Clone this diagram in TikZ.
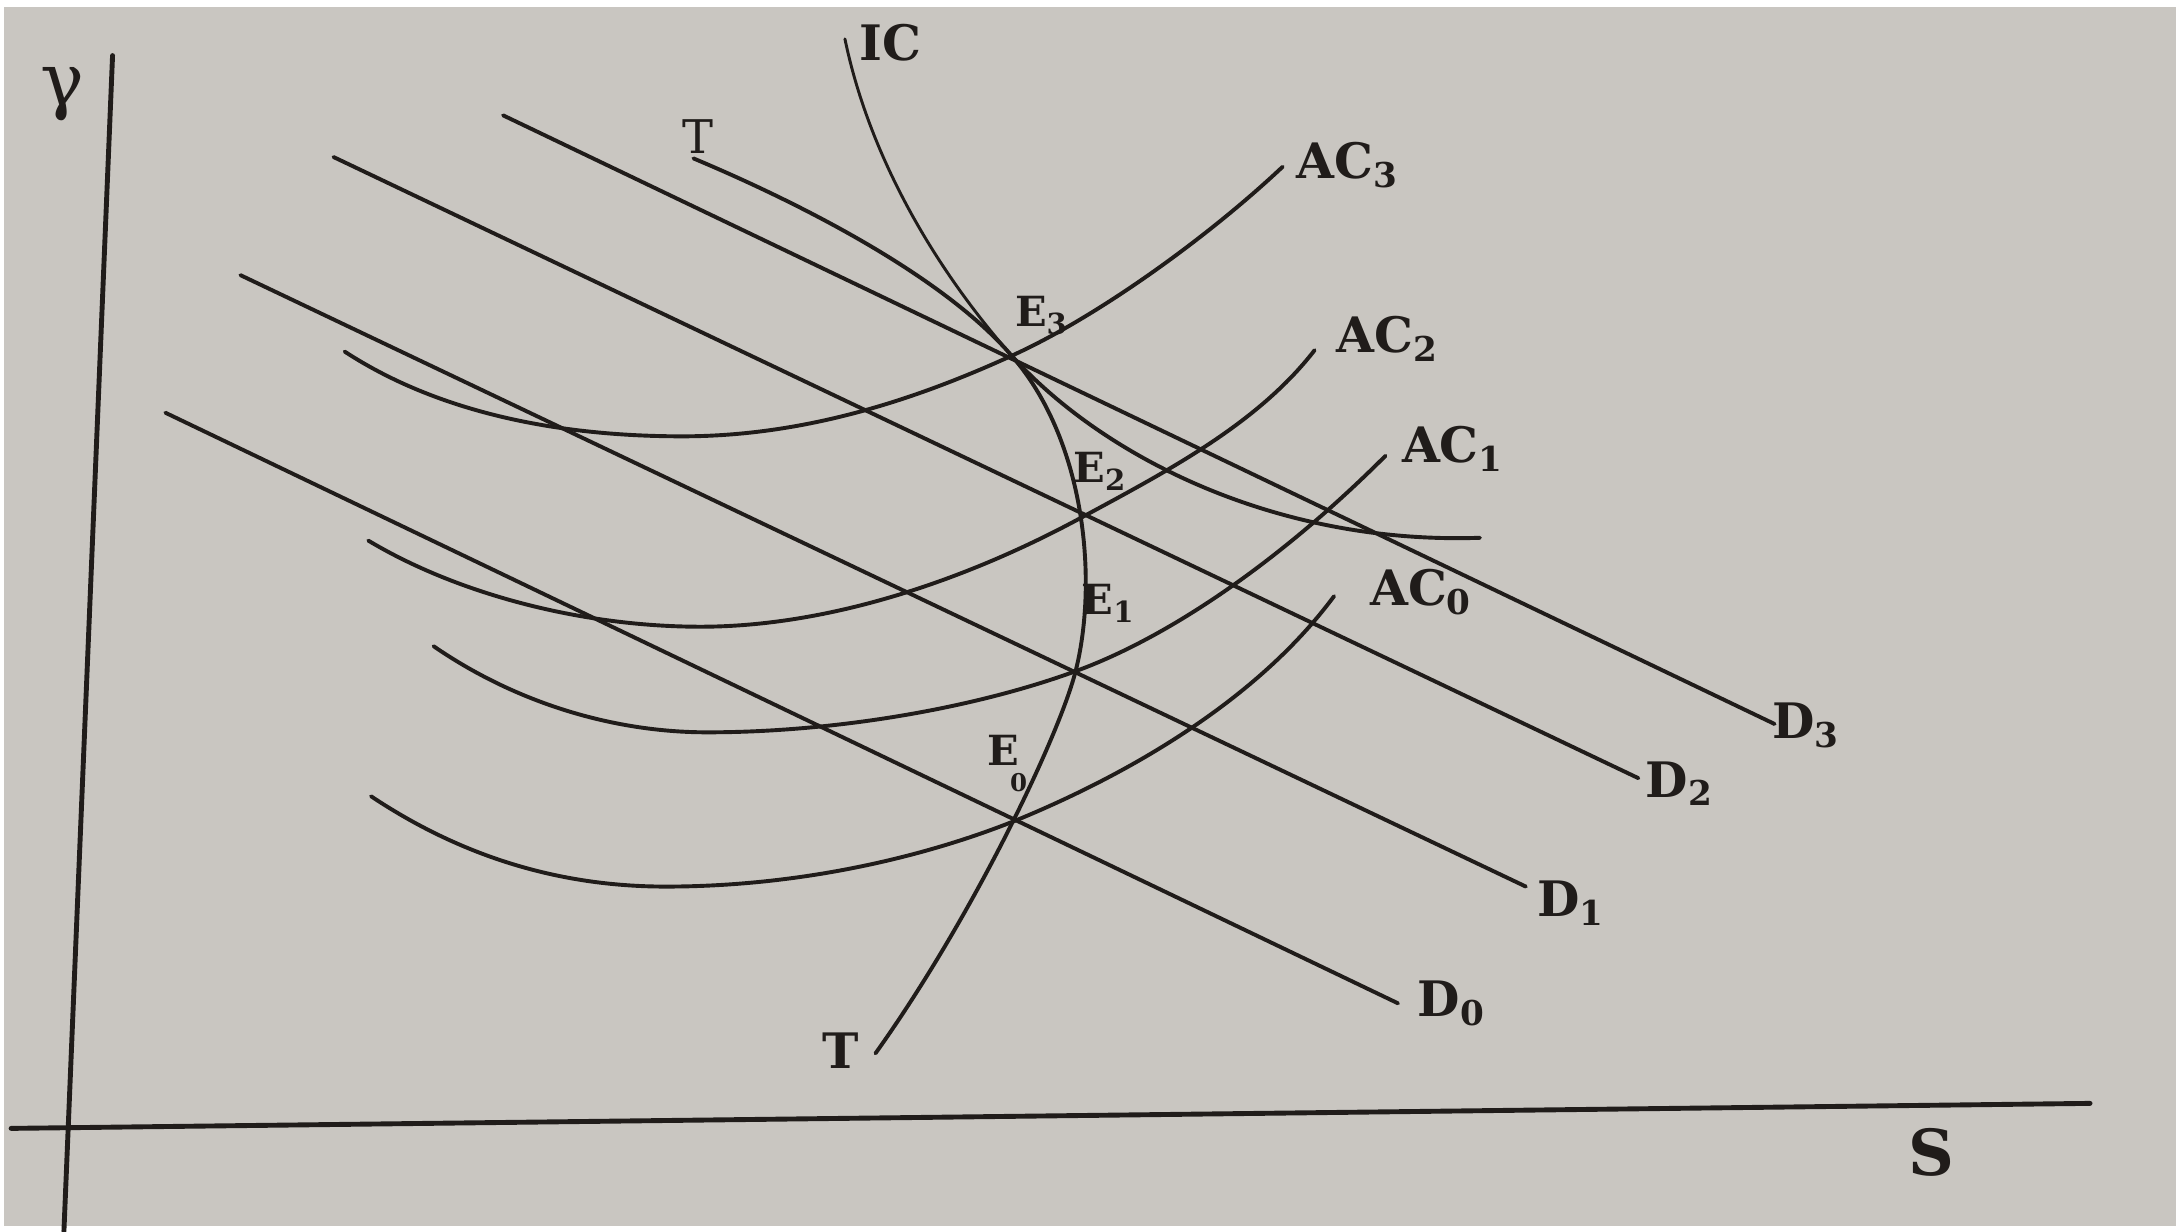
\documentclass[tikz,border=0pt]{standalone}
\usepackage{fontspec}
\setmainfont{DejaVu Serif}
\usetikzlibrary{positioning}
\definecolor{paper}{RGB}{201,198,193}
\definecolor{ink}{RGB}{32,28,26}

\begin{document}
\begin{tikzpicture}[x=0.01cm, y=-0.01cm, line cap=round, line join=round,
    every node/.style={font=\bfseries\fontsize{10}{12}\selectfont, text=ink, inner sep=0pt},
    curve/.style={ink, line width=0.8pt},
    thincurve/.style={ink, line width=0.6pt},
    axisline/.style={ink, line width=1pt},
    elabel/.style={font=\bfseries\fontsize{8.5}{10}\selectfont}]
    \useasboundingbox (0,0) rectangle (1568,886);
    \fill[white] (0,0) rectangle (1568,886);
    \fill[paper] (3,5) rectangle (1566,882);

    % axes
    \coordinate (yTop) at (81,40);
    \coordinate (yBot) at (46,886);
    \coordinate (xLeft) at (8,812);
    \coordinate (xRight) at (1504,794);
    \draw[axisline] (yTop) -- (yBot);
    \draw[axisline] (xLeft) -- (xRight);
    \node[font=\mdseries\fontsize{15}{16}\selectfont] (lblGamma) at (45,68) {γ};
    \node[font=\bfseries\fontsize{13}{15}\selectfont] (lblS) at (1390,829) {S};

    % equilibrium points
    \coordinate (E3) at (728,256);
    \coordinate (E2) at (779,372);
    \coordinate (E1) at (774,483);
    \coordinate (E0) at (732,590);

    % demand lines
    \coordinate (D3a) at (362,83);   \coordinate (D3b) at (1277,521);
    \coordinate (D2a) at (240,113);  \coordinate (D2b) at (1179,560);
    \coordinate (D1a) at (173,198);  \coordinate (D1b) at (1098,638);
    \coordinate (D0a) at (119,297);  \coordinate (D0b) at (1006,722);
    \foreach \a/\b in {D3a/D3b, D2a/D2b, D1a/D1b, D0a/D0b} {
        \draw[curve] (\a) -- (\b);
    }

    % average cost curves
    \draw[curve] (248,253) .. controls (320,300) and (410,314) .. (491,314)
        .. controls (580,314) and (660,287) .. (E3)
        .. controls (790,228) and (870,170) .. (923,120);
    \draw[curve] (265,389) .. controls (330,428) and (420,451) .. (504,451)
        .. controls (600,451) and (700,415) .. (E2)
        .. controls (840,339) and (905,305) .. (946,252);
    \draw[curve] (312,465) .. controls (370,505) and (440,527) .. (509,527)
        .. controls (600,527) and (700,510) .. (E1)
        .. controls (840,459) and (920,405) .. (997,328);
    \draw[curve] (267,573) .. controls (330,615) and (400,638) .. (479,638)
        .. controls (580,638) and (670,615) .. (E0)
        .. controls (800,562) and (900,510) .. (960,429);

    % T--T curve and IC curve
    \draw[curve] (499,114) .. controls (580,148) and (680,200) .. (E3)
        .. controls (782,318) and (790,420) .. (E1)
        .. controls (762,530) and (700,660) .. (630,758);
    \draw[thincurve] (608,28) .. controls (625,110) and (670,190) .. (E3);
    \draw[curve] (E3) .. controls (795,330) and (920,392) .. (1065,387);

    % labels
    \node (lblIC) at (641,31) {IC};
    \node[font=\mdseries\fontsize{9.5}{11}\selectfont] (lblTtop) at (502,98) {T};
    \node (lblTbot) at (605,756) {T};
    \node (lblAC3) at (970,119) {AC\textsubscript{3}};
    \node (lblAC2) at (999,244) {AC\textsubscript{2}};
    \node (lblAC1) at (1046,323) {AC\textsubscript{1}};
    \node (lblAC0) at (1023,426) {AC\textsubscript{0}};
    \node[elabel] (lblE3) at (750,227) {E\textsubscript{3}};
    \node[elabel] (lblE2) at (792,339) {E\textsubscript{2}};
    \node[elabel] (lblE1) at (798,434) {E\textsubscript{1}};
    \node[elabel] (lblE0) at (722,540) {E};
    \node[font=\bfseries\fontsize{5}{6}\selectfont] (lblE0sub) at (733,563) {0};
    \node (lblD3) at (1300,522) {D\textsubscript{3}};
    \node (lblD2) at (1209,564) {D\textsubscript{2}};
    \node (lblD1) at (1131,650) {D\textsubscript{1}};
    \node (lblD0) at (1045,722) {D\textsubscript{0}};
\end{tikzpicture}
\end{document}
